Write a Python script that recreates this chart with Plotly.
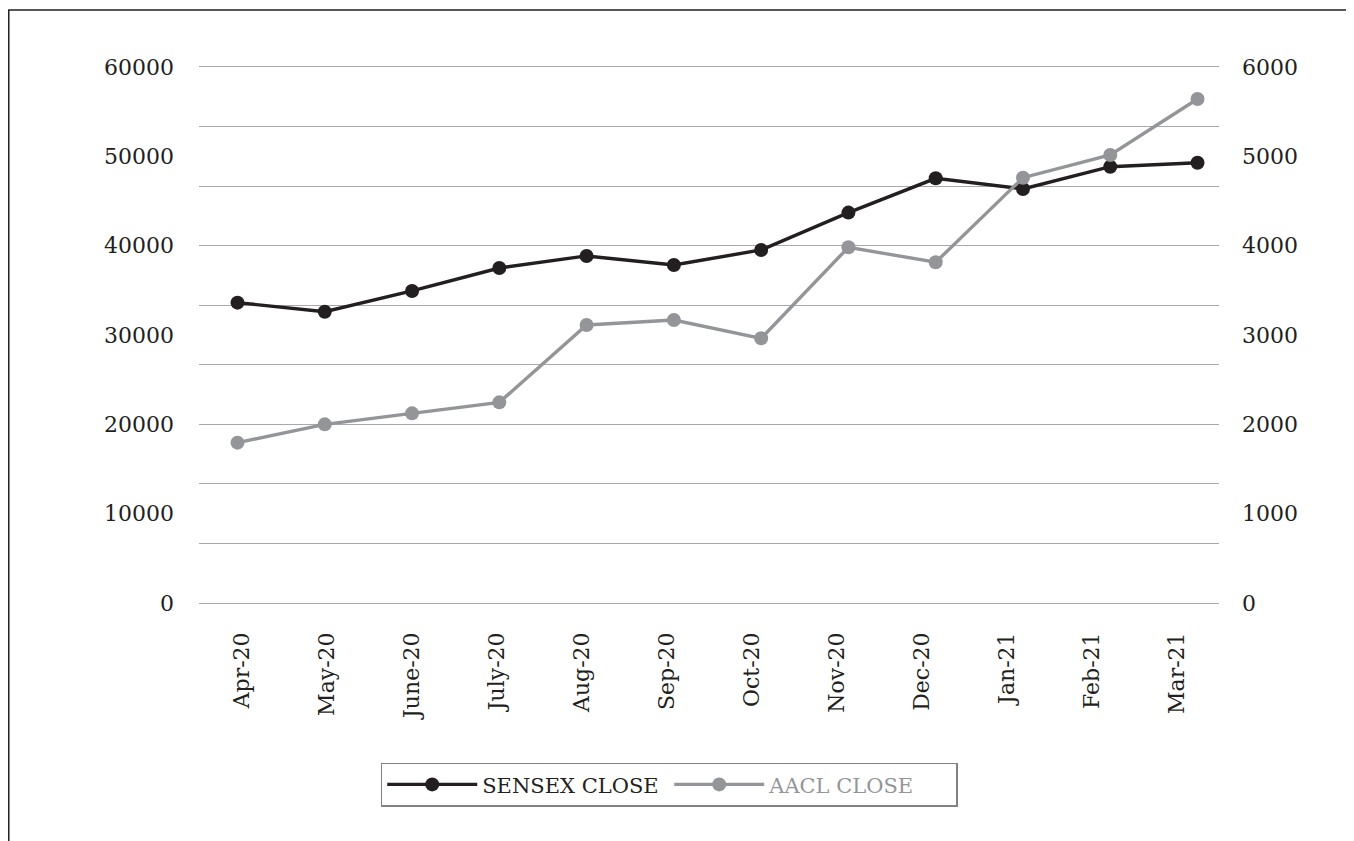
import plotly.graph_objects as go

months = ["Apr-20", "May-20", "June-20", "July-20", "Aug-20", "Sep-20",
          "Oct-20", "Nov-20", "Dec-20", "Jan-21", "Feb-21", "Mar-21"]
sensex_close = [33620, 32610, 34930, 37500, 38850, 37840,
                39520, 43700, 47540, 46350, 48840, 49290]
aacl_close = [1795, 2000, 2123, 2246, 3112, 3168,
              2963, 3982, 3814, 4761, 5015, 5642]
left_ticks = [0, 10000, 20000, 30000, 40000, 50000, 60000]
right_ticks = [0, 1000, 2000, 3000, 4000, 5000, 6000]

idx = list(range(len(months)))
FONT = "DejaVu Serif"
DARK = "#231f20"
GREY = "#939598"
GRID = "#a7a9ac"

fig = go.Figure()
# helper (invisible) traces so the label axis and the grid axis are drawn
fig.add_trace(go.Scatter(x=[], y=[], xaxis="x", yaxis="y3", showlegend=False,
                         hoverinfo="skip", mode="lines"))
fig.add_trace(go.Scatter(x=[], y=[], xaxis="x2", yaxis="y", showlegend=False,
                         hoverinfo="skip", mode="lines"))
fig.add_trace(go.Scatter(
    x=idx, y=sensex_close, name="SENSEX CLOSE", mode="lines+markers",
    line=dict(color=DARK, width=3.4), marker=dict(color=DARK, size=14),
    xaxis="x", yaxis="y"))
fig.add_trace(go.Scatter(
    x=idx, y=aacl_close, name="<span style='color:#939598'>AACL CLOSE</span>",
    mode="lines+markers",
    line=dict(color=GREY, width=3.4), marker=dict(color=GREY, size=14),
    xaxis="x", yaxis="y2"))

fig.update_layout(
    width=1346, height=833,
    margin=dict(l=191, r=135, t=59, b=238),
    paper_bgcolor="white", plot_bgcolor="white",
    font=dict(family=FONT, size=22, color=DARK),
    xaxis=dict(range=[-0.441, 11.246], showticklabels=False, showgrid=False,
               zeroline=False, showline=True, mirror=True, linecolor=GRID,
               linewidth=1.4, ticks=""),
    xaxis2=dict(overlaying="x", anchor="y", side="bottom", range=[-0.5, 11.5],
                tickmode="array", tickvals=idx, ticktext=months, tickangle=-90,
                showgrid=False, zeroline=False, showline=False, ticks="",
                ticklabelstandoff=24,
                tickfont=dict(family=FONT, size=22, color=DARK)),
    yaxis=dict(range=[0, 60000], tickmode="array", tickvals=left_ticks,
               tickformat="d",
               showgrid=False, zeroline=False, showline=False, ticks="",
               ticklabelstandoff=24,
               tickfont=dict(family=FONT, size=22, color=DARK)),
    yaxis2=dict(range=[0, 6000], overlaying="y", side="right", anchor="x",
                tickmode="array", tickvals=right_ticks, tickformat="d",
                showgrid=False, zeroline=False, showline=False, ticks="",
                ticklabelstandoff=22,
                tickfont=dict(family=FONT, size=22, color=DARK)),
    yaxis3=dict(range=[0, 9], dtick=1, tick0=0, overlaying="y",
                anchor="x",
                showticklabels=False, showgrid=True, gridcolor=GRID,
                gridwidth=1.4, zeroline=False, showline=False, ticks=""),
    legend=dict(orientation="h", x=0.461, xanchor="center", y=-0.298,
                yanchor="top", bordercolor="#808285", borderwidth=1.5,
                font=dict(family=FONT, size=21, color=DARK),
                entrywidth=182, itemwidth=90, bgcolor="white"),
    showlegend=True,
)

# outer frame of the chart area
fig.add_shape(type="rect", xref="paper", yref="paper",
              x0=-0.1865, x1=1.15, y0=-0.48, y1=1.1063,
              line=dict(color=DARK, width=1.5), fillcolor="rgba(0,0,0,0)",
              layer="above")

fig.write_html("out.html")
